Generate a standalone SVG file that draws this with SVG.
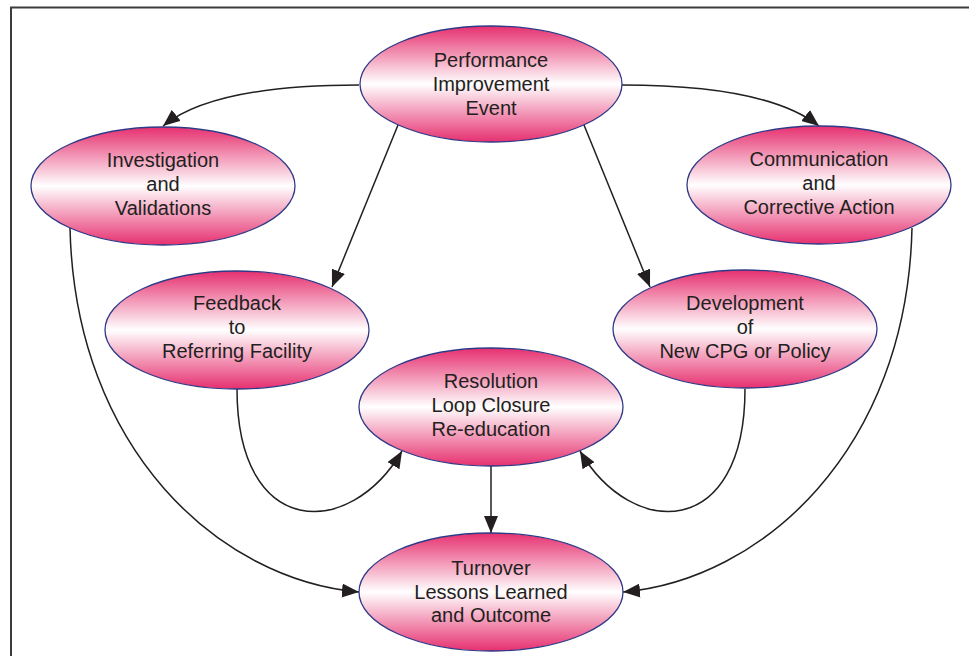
<svg xmlns="http://www.w3.org/2000/svg" width="969" height="656" viewBox="0 0 969 656">
<defs>
<linearGradient id="pink" x1="0" y1="0" x2="0" y2="1">
<stop offset="0" stop-color="#e6306f"/>
<stop offset="0.5" stop-color="#ffffff"/>
<stop offset="1" stop-color="#e6306f"/>
</linearGradient>
<marker id="arr" markerUnits="userSpaceOnUse" markerWidth="18" markerHeight="14" refX="17" refY="7" orient="auto">
<path d="M0,0 L17,7 L0,14 z" fill="#231f20"/>
</marker>
<style>
.node ellipse{fill:url(#pink);stroke:#2e3a87;stroke-width:1.3}
.node text{font-family:"Liberation Sans",Arial,sans-serif;font-size:20px;fill:#231f20;text-anchor:middle}
.conn path{fill:none;stroke:#231f20;stroke-width:1.5}
.frame{fill:none;stroke:#3c3c3c;stroke-width:2}
</style>
</defs>
<rect width="969" height="656" fill="#fff"/>
<path class="frame" d="M11,656 V7.5 H969"/>
<g id="connectors" class="conn">
<path d="M359,85 C 260,85 195,100 163,126" marker-end="url(#arr)"/>
<path d="M622,85 C 721,85 786,100 819,126" marker-end="url(#arr)"/>
<path d="M398,125 L332,287" marker-end="url(#arr)"/>
<path d="M584,125 L650,287" marker-end="url(#arr)"/>
<path d="M70,228 C 75,450 220,580 359,592" marker-end="url(#arr)"/>
<path d="M912,228 C 907,450 762,580 623,592" marker-end="url(#arr)"/>
<path d="M237,389 C 237,540 350,540 402,451" marker-end="url(#arr)"/>
<path d="M745,389 C 745,540 632,540 580,451" marker-end="url(#arr)"/>
<path d="M491,466 L491,533" marker-end="url(#arr)"/>
</g>
<g id="n-event" class="node">
<ellipse cx="491" cy="84" rx="131" ry="58"/>
<text x="491" y="67">Performance</text>
<text x="491" y="91">Improvement</text>
<text x="491" y="115">Event</text>
</g>
<g id="n-investigation" class="node">
<ellipse cx="163" cy="186" rx="132" ry="59"/>
<text x="163" y="167">Investigation</text>
<text x="163" y="191">and</text>
<text x="163" y="215">Validations</text>
</g>
<g id="n-communication" class="node">
<ellipse cx="819" cy="185" rx="132" ry="59"/>
<text x="819" y="166">Communication</text>
<text x="819" y="190">and</text>
<text x="819" y="214">Corrective Action</text>
</g>
<g id="n-feedback" class="node">
<ellipse cx="237" cy="330" rx="132" ry="59"/>
<text x="237" y="310">Feedback</text>
<text x="237" y="334">to</text>
<text x="237" y="358">Referring Facility</text>
</g>
<g id="n-development" class="node">
<ellipse cx="745" cy="329" rx="132" ry="59"/>
<text x="745" y="310">Development</text>
<text x="745" y="334">of</text>
<text x="745" y="358">New CPG or Policy</text>
</g>
<g id="n-resolution" class="node">
<ellipse cx="491" cy="407" rx="132" ry="59"/>
<text x="491" y="388">Resolution</text>
<text x="491" y="412">Loop Closure</text>
<text x="491" y="436">Re-education</text>
</g>
<g id="n-turnover" class="node">
<ellipse cx="491" cy="592" rx="132" ry="59"/>
<text x="491" y="575">Turnover</text>
<text x="491" y="599">Lessons Learned</text>
<text x="491" y="622">and Outcome</text>
</g>
</svg>
